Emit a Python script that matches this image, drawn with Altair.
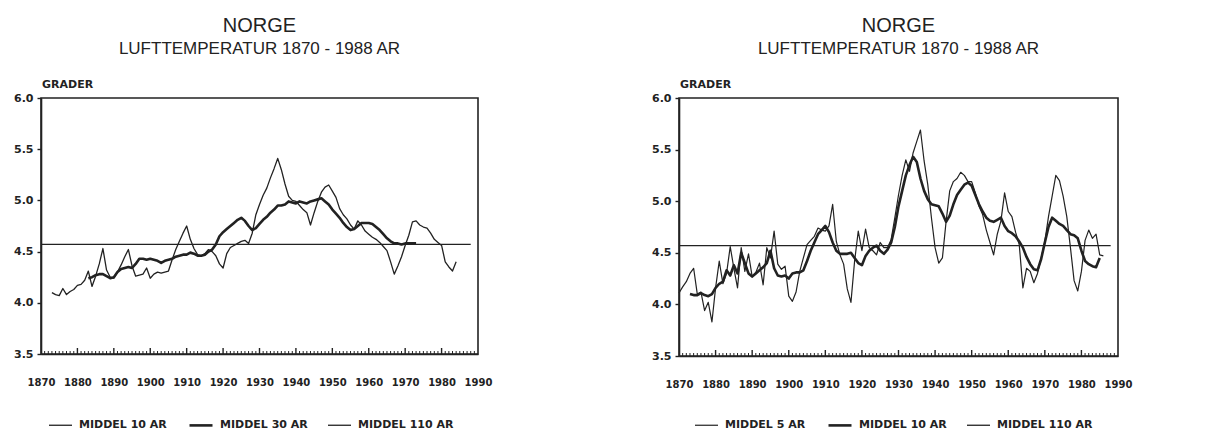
import altair as alt
import pandas as pd

INK = "#222222"
TITLE_FONT = "Liberation Sans"
LABEL_FONT = "DejaVu Sans"

# ---------------- left panel: 10- and 30-year running means ----------------
left_years_10 = list(range(1873, 1985))
left_mid_10 = [
    4.10, 4.08, 4.07, 4.14, 4.08, 4.11, 4.13, 4.17, 4.18, 4.22,
    4.31, 4.16, 4.26, 4.38, 4.53, 4.32, 4.25, 4.24, 4.30, 4.37,
    4.45, 4.52, 4.36, 4.26, 4.27, 4.28, 4.34, 4.24, 4.28, 4.30,
    4.29, 4.30, 4.31, 4.42, 4.52, 4.60, 4.68, 4.75, 4.62, 4.53,
    4.47, 4.46, 4.48, 4.52, 4.50, 4.46, 4.38, 4.34, 4.48, 4.54,
    4.56, 4.58, 4.60, 4.61, 4.58, 4.68, 4.86, 4.96, 5.05, 5.12,
    5.22, 5.31, 5.41, 5.30, 5.16, 5.04, 5.00, 4.99, 4.95, 4.91,
    4.88, 4.76, 4.88, 4.99, 5.08, 5.13, 5.15, 5.09, 5.03, 4.92,
    4.86, 4.82, 4.76, 4.72, 4.80, 4.76, 4.70, 4.67, 4.64, 4.62,
    4.59, 4.55, 4.51, 4.40, 4.28, 4.36, 4.45, 4.56, 4.66, 4.79,
    4.80, 4.76, 4.74, 4.73, 4.68, 4.62, 4.59, 4.56, 4.40, 4.35,
    4.31, 4.40,
]
left_years_30 = list(range(1883, 1974))
left_mid_30 = [
    4.24, 4.25, 4.27, 4.28, 4.28, 4.26, 4.24, 4.25, 4.30, 4.33,
    4.34, 4.35, 4.34, 4.38, 4.43, 4.43, 4.42, 4.43, 4.42, 4.41,
    4.39, 4.41, 4.42, 4.43, 4.45, 4.46, 4.47, 4.47, 4.49, 4.48,
    4.46, 4.46, 4.47, 4.50, 4.52, 4.57, 4.65, 4.69, 4.72, 4.75,
    4.78, 4.81, 4.83, 4.80, 4.75, 4.71, 4.73, 4.77, 4.81, 4.84,
    4.88, 4.91, 4.95, 4.95, 4.96, 4.99, 4.98, 4.97, 4.99, 4.98,
    4.97, 4.99, 5.00, 5.01, 5.02, 4.99, 4.96, 4.91, 4.87, 4.83,
    4.78, 4.74, 4.71, 4.72, 4.75, 4.78, 4.78, 4.78, 4.77, 4.74,
    4.71, 4.67, 4.63, 4.60, 4.58, 4.58, 4.57, 4.58, 4.58, 4.58,
    4.58,
]

# ---------------- right panel: 5- and 10-year running means ----------------
right_years_5 = list(range(1870, 1987))
right_mid_5 = [
    4.11, 4.17, 4.22, 4.30, 4.35, 4.10, 4.12, 3.94, 4.02, 3.83,
    4.16, 4.42, 4.20, 4.30, 4.56, 4.35, 4.16, 4.55, 4.32, 4.49,
    4.27, 4.31, 4.40, 4.19, 4.55, 4.45, 4.71, 4.39, 4.34, 4.37,
    4.08, 4.03, 4.12, 4.32, 4.45, 4.58, 4.62, 4.66, 4.74, 4.72,
    4.71, 4.76, 4.97, 4.61, 4.48, 4.39, 4.15, 4.02, 4.42, 4.71,
    4.52, 4.73, 4.55, 4.52, 4.48, 4.60, 4.55, 4.55, 4.63, 4.84,
    5.06, 5.25, 5.40, 5.29, 5.47, 5.58, 5.69, 5.39, 5.16, 4.84,
    4.55, 4.40, 4.45, 4.80, 5.10, 5.19, 5.22, 5.28, 5.25, 5.19,
    5.19, 5.08, 4.95, 4.87, 4.72, 4.60, 4.48, 4.68, 4.81, 5.08,
    4.90, 4.85, 4.70, 4.58, 4.16, 4.35, 4.32, 4.21, 4.30, 4.45,
    4.61, 4.85, 5.05, 5.25, 5.20, 5.05, 4.85, 4.55, 4.23, 4.13,
    4.32, 4.62, 4.72, 4.64, 4.68, 4.48, 4.47,
]
right_years_10 = list(range(1873, 1986))
right_mid_10 = [
    4.10, 4.09, 4.09, 4.11, 4.09, 4.08, 4.10, 4.16, 4.20, 4.22,
    4.33, 4.28, 4.38, 4.30, 4.50, 4.40, 4.30, 4.27, 4.30, 4.33,
    4.36, 4.40, 4.52, 4.35, 4.28, 4.27, 4.28, 4.25, 4.30, 4.31,
    4.31, 4.33, 4.42, 4.52, 4.60, 4.68, 4.72, 4.76, 4.70, 4.60,
    4.52, 4.49, 4.49, 4.49, 4.50, 4.45, 4.40, 4.38, 4.47, 4.52,
    4.55, 4.57, 4.52, 4.49, 4.53, 4.60, 4.75, 4.95, 5.10, 5.25,
    5.35, 5.43, 5.38, 5.22, 5.10, 5.02, 4.97, 4.96, 4.95, 4.88,
    4.80, 4.86, 4.97, 5.06, 5.11, 5.16, 5.18, 5.15, 5.06, 4.97,
    4.90, 4.84, 4.81, 4.80, 4.82, 4.84, 4.76, 4.71, 4.69, 4.66,
    4.61, 4.55, 4.46, 4.39, 4.34, 4.33, 4.44, 4.60, 4.75, 4.84,
    4.81, 4.78, 4.76, 4.72, 4.68, 4.67, 4.64, 4.52, 4.42, 4.39,
    4.37, 4.36, 4.45,
]

# 110-year mean, drawn as a level line over the whole record
mean_years = [1870, 1988]
mean_110 = [4.57, 4.57]

decade_labels = list(range(1870, 2000, 10))
major_ticks = list(range(1880, 1990, 10))
minor_ticks = [y for y in range(1871, 1990) if y % 10]
temp_ticks = [3.5, 4.0, 4.5, 5.0, 5.5, 6.0]


def panel(series, widths, width, height, legend_x, legend_y):
    names = [s[0] for s in series]
    df = pd.concat(
        [pd.DataFrame({"year": yrs, "temp": vals, "serie": name})
         for name, yrs, vals in series],
        ignore_index=True,
    )
    x = alt.X(
        "year:Q",
        scale=alt.Scale(domain=[1870, 1990], nice=False, zero=False),
        axis=alt.Axis(values=decade_labels, format="d", ticks=False, domain=True,
                      domainColor=INK, domainWidth=1.6,
                      grid=False, title=None, labelPadding=23, labelOverlap=False,
                      labelFlush=False, labelFont=LABEL_FONT, labelFontSize=10,
                      labelFontWeight="bold", labelColor=INK),
    )
    y = alt.Y(
        "temp:Q",
        scale=alt.Scale(domain=[3.5, 6.0], nice=False, zero=False),
        axis=alt.Axis(values=temp_ticks, format=".1f", domain=True,
                      domainColor=INK, domainWidth=1.6, grid=False,
                      title=None, tickSize=4, tickWidth=1.4, tickColor=INK,
                      labelPadding=4, labelOverlap=False, labelFlush=False,
                      labelFont=LABEL_FONT, labelFontSize=11,
                      labelFontWeight="bold", labelColor=INK),
    )
    lines = alt.Chart(df).mark_line(color=INK, strokeJoin="round").encode(
        x=x,
        y=y,
        detail="serie:N",
        strokeWidth=alt.StrokeWidth(
            "serie:N",
            sort=names,
            scale=alt.Scale(type="ordinal", domain=names, range=widths),
            legend=alt.Legend(
                orient="none", legendX=legend_x, legendY=legend_y,
                direction="horizontal", title=None, symbolType="stroke",
                symbolSize=529, symbolStrokeColor=INK, labelFont=LABEL_FONT,
                labelFontSize=11, labelFontWeight="bold", labelColor=INK,
                labelOffset=6, columnPadding=17, padding=0,
            ),
        ),
    )
    minor = alt.Chart(pd.DataFrame({"year": minor_ticks})).mark_rule(
        color=INK, strokeWidth=1
    ).encode(x=x, y=alt.value(height), y2=alt.value(height - 3))
    major = alt.Chart(pd.DataFrame({"year": major_ticks})).mark_rule(
        color=INK, strokeWidth=1.4
    ).encode(x=x, y=alt.value(height), y2=alt.value(height - 6))

    title = alt.Chart(pd.DataFrame({"t": ["NORGE"]})).mark_text(
        font=TITLE_FONT, fontSize=20, color=INK, align="center", baseline="alphabetic"
    ).encode(text="t:N", x=alt.value(width / 2), y=alt.value(-66))
    subtitle = alt.Chart(
        pd.DataFrame({"t": ["LUFTTEMPERATUR 1870 - 1988  AR"]})
    ).mark_text(
        font=TITLE_FONT, fontSize=17, color=INK, align="center", baseline="alphabetic"
    ).encode(text="t:N", x=alt.value(width / 2), y=alt.value(-44))
    unit = alt.Chart(pd.DataFrame({"t": ["GRADER"]})).mark_text(
        font=LABEL_FONT, fontSize=11, fontWeight="bold", color=INK,
        align="left", baseline="alphabetic"
    ).encode(text="t:N", x=alt.value(1), y=alt.value(-10))

    return alt.layer(minor, major, lines, title, subtitle, unit).properties(
        width=width, height=height,
        view=alt.ViewBackground(stroke=INK, strokeWidth=1.6),
    )


left = panel(
    [("MIDDEL 10 AR", left_years_10, left_mid_10),
     ("MIDDEL 30 AR", left_years_30, left_mid_30),
     ("MIDDEL 110 AR", mean_years, mean_110)],
    [1.3, 2.6, 1.3], 437, 256, 7, 314,
)
right = panel(
    [("MIDDEL 5 AR", right_years_5, right_mid_5),
     ("MIDDEL 10 AR", right_years_10, right_mid_10),
     ("MIDDEL 110 AR", mean_years, mean_110)],
    [1.2, 2.6, 1.3], 439, 258, 15, 314,
)

chart = (
    alt.hconcat(left, right, spacing=201, bounds="flush")
    .resolve_scale(strokeWidth="independent", x="independent", y="independent")
    .resolve_legend(strokeWidth="independent")
    .properties(padding={"left": 12, "top": 15, "right": 5, "bottom": 2})
    .configure(background="white")
    .configure_view(stroke=INK, strokeWidth=1.6)
)

chart.save("out.html", embed_options={"renderer": "svg", "actions": False})
